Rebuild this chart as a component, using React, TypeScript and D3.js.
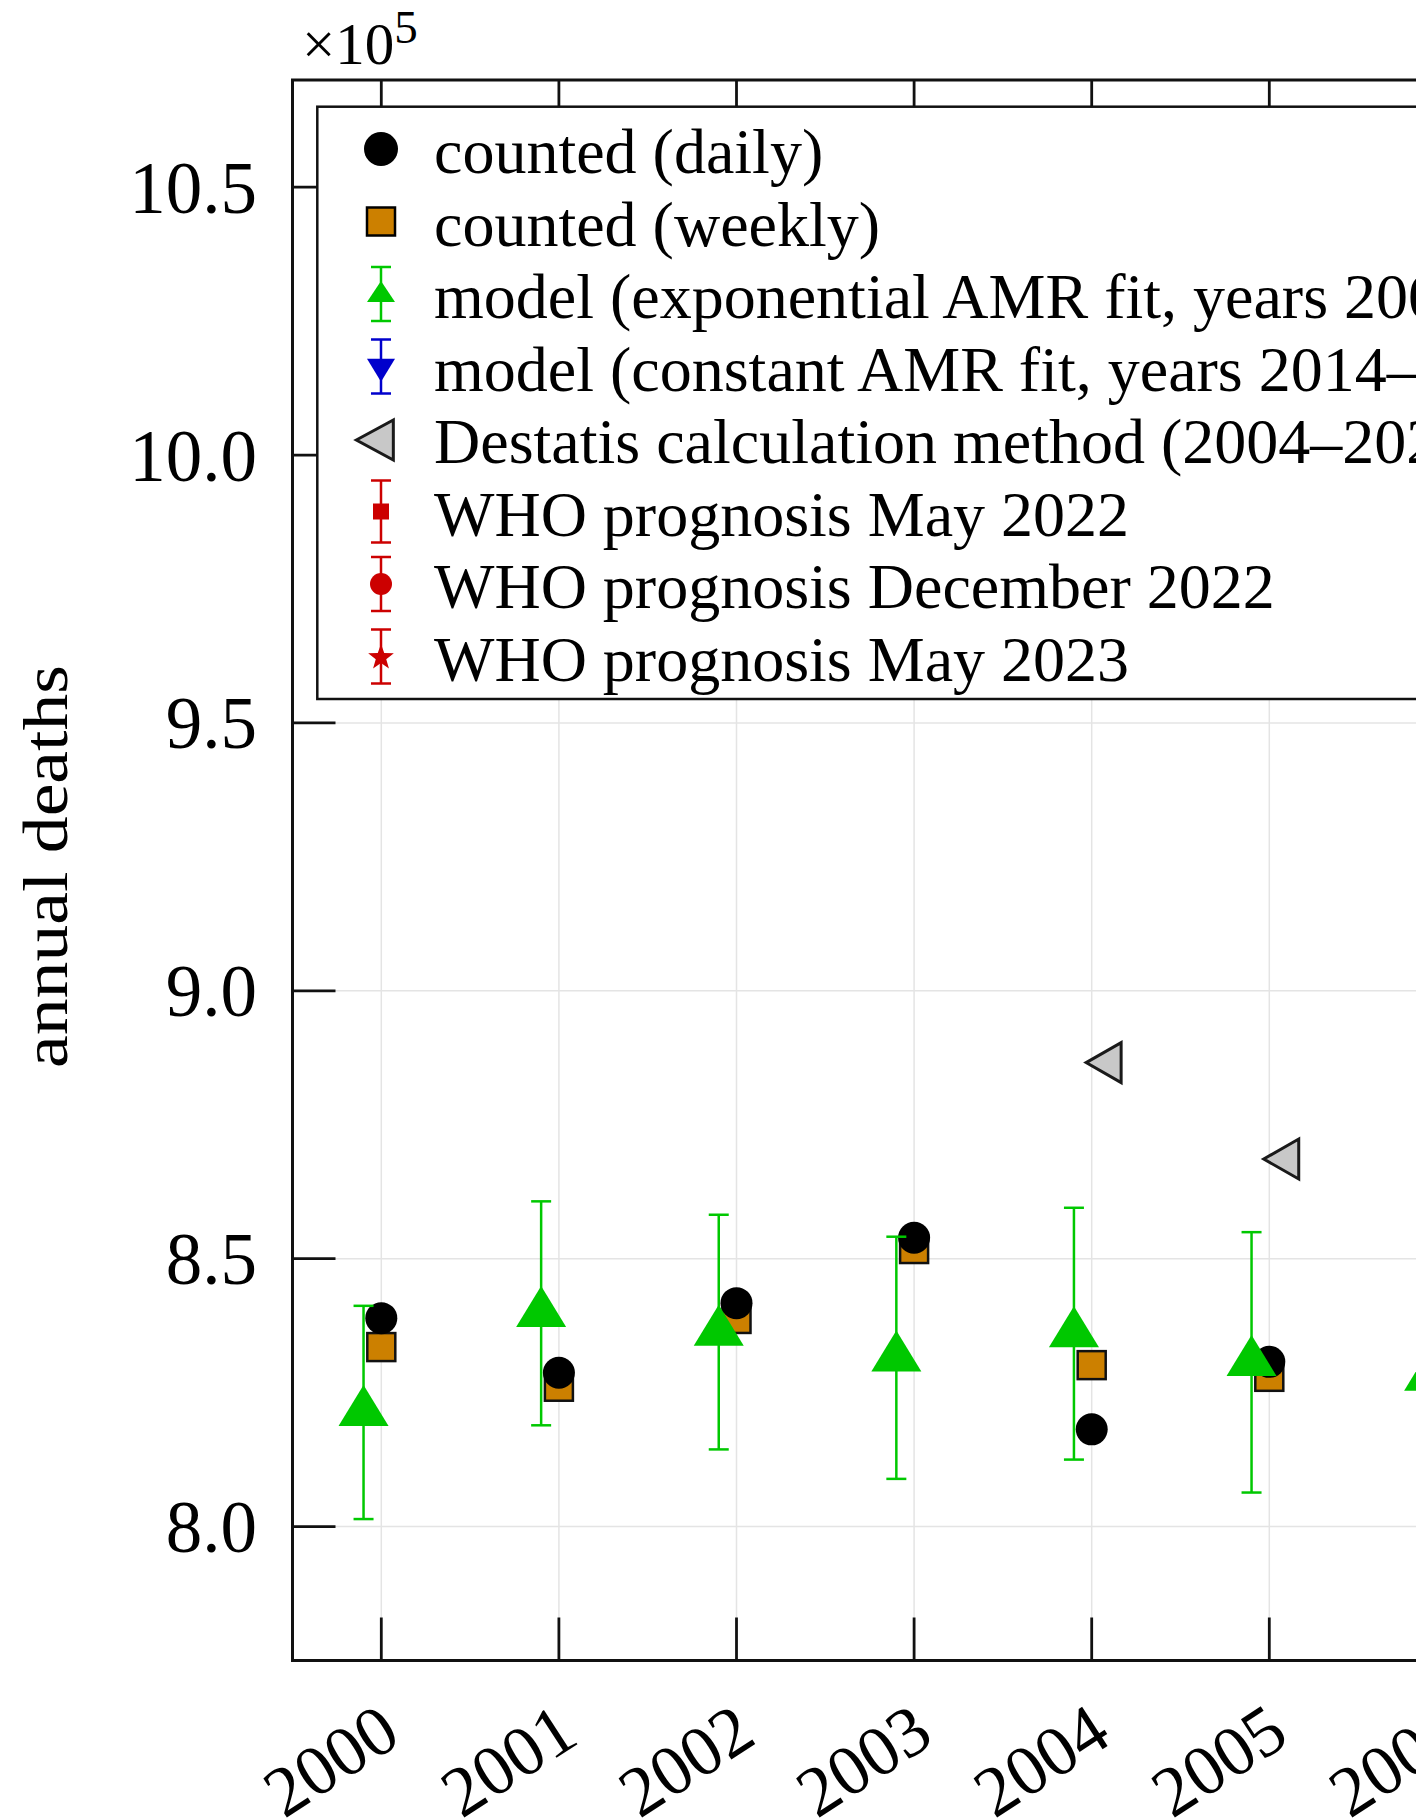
import React from 'react';
import * as d3 from 'd3';

// ---- data (annual deaths) ----
const years = [2000, 2001, 2002, 2003, 2004, 2005];
const countedDaily = [838900, 828700, 841700, 853900, 818150, 830750];
const countedWeekly = [833500, 826100, 838750, 851800, 830130, 827950];
const modelYears = [2000, 2001, 2002, 2003, 2004, 2005, 2006];
const modelExp = [821300, 839800, 836300, 831500, 836000, 830650, 827900];
const modelExpErr = [19900, 20900, 21900, 22600, 23500, 24300, 25000];
const destatisYears = [2004, 2005];
const destatisValues = [886600, 868600];
const yTicks = [800000, 850000, 900000, 950000, 1000000, 1050000];
const xTicks = [2000, 2001, 2002, 2003, 2004, 2005, 2006, 2007, 2008, 2009, 2010, 2011, 2012, 2013, 2014, 2015, 2016, 2017, 2018, 2019, 2020, 2021, 2022, 2023];
const legendLabels = [
  'counted (daily)',
  'counted (weekly)',
  'model (exponential AMR fit, years 2000–2019)',
  'model (constant AMR fit, years 2014–2019)',
  'Destatis calculation method (2004–2022)',
  'WHO prognosis May 2022',
  'WHO prognosis December 2022',
  'WHO prognosis May 2023',
];

const W = 1416;
const H = 1818;
const FONT = '"Liberation Serif", "Times New Roman", Times, serif';
const GREEN = '#00c800';
const BLUE = '#0000cc';
const RED = '#cc0000';
const ORANGE = '#cc8000';
const GRAY = '#c8c8c8';

const left = 292.5;
const top = 80;
const bottom = 1660.5;
const yearW = 177.6;
const x = d3.scaleLinear().domain([1999.5, 2023.5]).range([left, left + 24 * yearW]);
const y = d3.scaleLinear().domain([775000, 1070000]).range([bottom, top]);
const right = x(2023.5);

function upTri(cx: number, cy: number, w: number, h: number) {
  const apex = cy - (2 * h) / 3;
  const base = cy + h / 3;
  return `M${cx},${apex}L${cx + w / 2},${base}L${cx - w / 2},${base}Z`;
}
function downTri(cx: number, cy: number, w: number, h: number) {
  const apex = cy + (2 * h) / 3;
  const base = cy - h / 3;
  return `M${cx},${apex}L${cx + w / 2},${base}L${cx - w / 2},${base}Z`;
}
function leftTri(cx: number, cy: number, w: number, h: number) {
  const tip = cx - (2 * w) / 3;
  const back = cx + w / 3;
  return `M${tip},${cy}L${back},${cy - h / 2}L${back},${cy + h / 2}Z`;
}
function star(cx: number, cy: number, ro: number, ri: number) {
  const pts: string[] = [];
  for (let i = 0; i < 10; i++) {
    const r = i % 2 === 0 ? ro : ri;
    const a = -Math.PI / 2 + (i * Math.PI) / 5;
    pts.push(`${cx + r * Math.cos(a)},${cy + r * Math.sin(a)}`);
  }
  return `M${pts.join('L')}Z`;
}

function ErrBar({ cx, y1, y2, color, cap, sw }: any) {
  return (
    <g stroke={color} strokeWidth={sw} fill="none">
      <line x1={cx} x2={cx} y1={y1} y2={y2} />
      <line x1={cx - cap / 2} x2={cx + cap / 2} y1={y1} y2={y1} />
      <line x1={cx - cap / 2} x2={cx + cap / 2} y1={y2} y2={y2} />
    </g>
  );
}

export default function App() {
  const legendX = 317.3;
  const legendY = 106.7;
  const legendH = 699 - 106.7;
  const symX = 381;
  const textX = 434;
  const row0 = 149;
  const rowStep = 72.5;

  const legendSymbol = (i: number, cy: number) => {
    switch (i) {
      case 0:
        return <circle cx={symX} cy={cy} r={17} fill="#000" />;
      case 1:
        return <rect x={symX - 14} y={cy - 14} width={28} height={28} fill={ORANGE} stroke="#000" strokeWidth={2.5} />;
      case 2:
        return (
          <g>
            <ErrBar cx={symX} y1={cy - 27} y2={cy + 27} color={GREEN} cap={20} sw={2.5} />
            <path d={upTri(symX, cy + 1, 28, 21)} fill={GREEN} />
          </g>
        );
      case 3:
        return (
          <g>
            <ErrBar cx={symX} y1={cy - 27} y2={cy + 27} color={BLUE} cap={20} sw={2.5} />
            <path d={downTri(symX, cy, 28, 23)} fill={BLUE} />
          </g>
        );
      case 4:
        return <path d={leftTri(symX, cy + 1, 37, 40)} fill={GRAY} stroke="#1a1a1a" strokeWidth={3} />;
      case 5:
        return (
          <g>
            <ErrBar cx={symX} y1={cy - 31} y2={cy + 31} color={RED} cap={20} sw={2.5} />
            <rect x={symX - 8} y={cy - 8} width={16} height={16} fill={RED} />
          </g>
        );
      case 6:
        return (
          <g>
            <ErrBar cx={symX} y1={cy - 27} y2={cy + 27} color={RED} cap={20} sw={2.5} />
            <circle cx={symX} cy={cy} r={11} fill={RED} />
          </g>
        );
      default:
        return (
          <g>
            <ErrBar cx={symX} y1={cy - 27} y2={cy + 27} color={RED} cap={20} sw={2.5} />
            <path d={star(symX, cy + 1, 13.5, 5.5)} fill={RED} />
          </g>
        );
    }
  };

  return (
    <svg
      width={W}
      height={H}
      viewBox={`0 0 ${W} ${H}`}
      style={{ position: 'absolute', left: 0, top: 0, background: '#fff', overflow: 'hidden' }}
      fontFamily={FONT}
    >
      <rect x={0} y={0} width={W} height={H} fill="#fff" />
      {/* grid */}
      <g stroke="#e4e4e4" strokeWidth={1.5}>
        {xTicks.map((t) => (
          <line key={'gx' + t} x1={x(t)} x2={x(t)} y1={top} y2={bottom} />
        ))}
        {yTicks.map((t) => (
          <line key={'gy' + t} x1={left} x2={right} y1={y(t)} y2={y(t)} />
        ))}
      </g>
      {/* ticks */}
      <g stroke="#111" strokeWidth={2.8}>
        {yTicks.map((t) => (
          <line key={'ty' + t} x1={left} x2={left + 43} y1={y(t)} y2={y(t)} />
        ))}
        {xTicks.map((t) => (
          <g key={'tx' + t}>
            <line x1={x(t)} x2={x(t)} y1={bottom} y2={bottom - 43} />
            <line x1={x(t)} x2={x(t)} y1={top} y2={top + 43} />
          </g>
        ))}
      </g>

      {/* counted (weekly) squares */}
      {years.map((yr, i) => (
        <rect
          key={'sq' + yr}
          x={x(yr) - 14}
          y={y(countedWeekly[i]) - 14}
          width={28}
          height={28}
          fill={ORANGE}
          stroke="#111"
          strokeWidth={2.5}
        />
      ))}
      {/* counted (daily) circles */}
      {years.map((yr, i) => (
        <circle key={'ci' + yr} cx={x(yr)} cy={y(countedDaily[i])} r={16} fill="#000" />
      ))}
      {/* model exponential */}
      {modelYears.map((yr, i) => {
        const cx = x(yr - 0.1);
        return (
          <g key={'me' + yr}>
            <ErrBar
              cx={cx}
              y1={y(modelExp[i] + modelExpErr[i])}
              y2={y(modelExp[i] - modelExpErr[i])}
              color={GREEN}
              cap={20}
              sw={2.5}
            />
            <path d={upTri(cx, y(modelExp[i]), 50, 41)} fill={GREEN} />
          </g>
        );
      })}
      {/* Destatis */}
      {destatisYears.map((yr, i) => (
        <path
          key={'de' + yr}
          d={leftTri(x(yr + 0.1), y(destatisValues[i]), 35, 40)}
          fill={GRAY}
          stroke="#1a1a1a"
          strokeWidth={3}
        />
      ))}

      {/* legend */}
      <rect x={legendX} y={legendY} width={3000} height={legendH} fill="#fff" stroke="#111" strokeWidth={2.5} />
      {legendLabels.map((lab, i) => {
        const cy = row0 + i * rowStep;
        return (
          <g key={'lg' + i}>
            {legendSymbol(i, cy)}
            <text x={textX} y={cy + 24} fontSize={64} fill="#000">
              {lab}
            </text>
          </g>
        );
      })}

      {/* frame */}
      <rect x={left} y={top} width={right - left} height={bottom - top} fill="none" stroke="#111" strokeWidth={3} />

      {/* y tick labels */}
      {yTicks.map((t) => (
        <text key={'yl' + t} x={257} y={y(t)} dy="0.35em" textAnchor="end" fontSize={73} fill="#000">
          {d3.format('.1f')(t / 1e5)}
        </text>
      ))}
      {/* x tick labels */}
      {xTicks.map((t) => (
        <text
          key={'xl' + t}
          transform={`translate(${x(t) + 22},1742) rotate(-33)`}
          textAnchor="end"
          fontSize={71}
          fill="#000"
        >
          {t}
        </text>
      ))}
      {/* multiplier */}
      <text x={302} y={64} fontSize={59} fill="#000">
        ×10
        <tspan fontSize={47} dy={-21}>
          5
        </tspan>
      </text>
      {/* y axis label */}
      <text
        transform="translate(66.7,866.5) rotate(-90)"
        textAnchor="middle"
        fontSize={64}
        textLength={403}
        lengthAdjust="spacingAndGlyphs"
        fill="#000"
      >
        annual deaths
      </text>
    </svg>
  );
}
